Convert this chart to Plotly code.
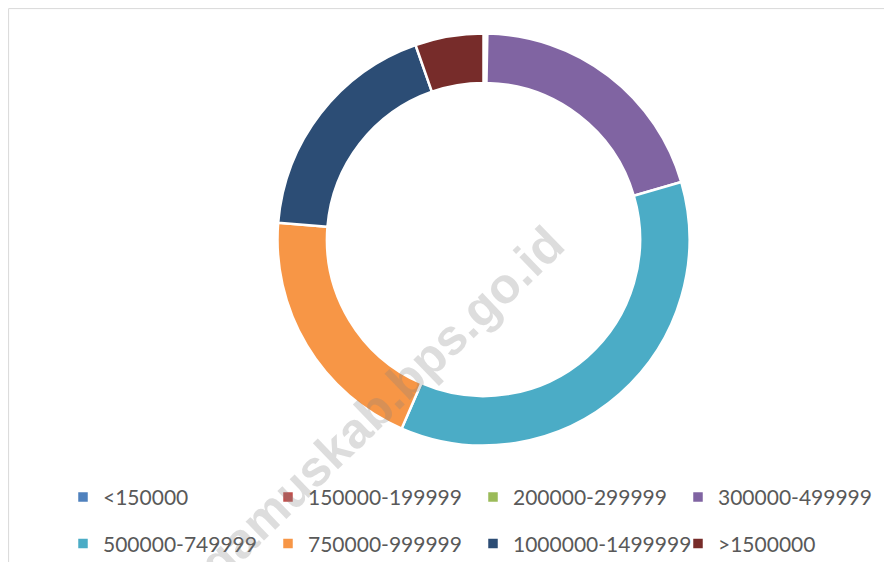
import plotly.graph_objects as go

labels = ["<150000", "150000-199999", "200000-299999", "300000-499999",
          "500000-749999", "750000-999999", "1000000-1499999", ">1500000"]
values = [0.1, 0.1, 0.1, 20.2, 36.0, 19.8, 18.35, 5.35]
colors = ["#4F81BD", "#C0504D", "#9BBB59", "#8064A2",
          "#4BACC6", "#F79646", "#2C4D75", "#772C2A"]

# page offset of the plot div (default body margin)
OFF = 8
W, H = 892 - OFF, 562 - OFF
cx, cy, R = 483.5 - OFF, 239.5 - OFF, 206


def esc(s):
    return s.replace("<", "&lt;").replace(">", "&gt;")


legend_labels = ["<span style='font-size:21px;baseline-shift:5px'>" + esc(l) + "</span>" for l in labels]

fig = go.Figure(go.Pie(
    labels=legend_labels, values=values, sort=False, direction="clockwise", rotation=0,
    hole=0.76, textinfo="none", hoverinfo="label+value",
    marker=dict(colors=colors, line=dict(color="white", width=2.5)),
    domain=dict(x=[(cx - R) / W, (cx + R) / W], y=[1 - (cy + R) / H, 1 - (cy - R) / H]),
))

LEG_FONT = 33.5
row1 = 497 - OFF
leg_top = row1 - 5 - (LEG_FONT * 1.3 + 3) / 2
leg_x = 55
fig.update_layout(
    width=W, height=H, margin=dict(l=0, r=0, t=0, b=0, autoexpand=False),
    paper_bgcolor="white", plot_bgcolor="white",
    showlegend=True,
    legend=dict(orientation="h", x=leg_x / W, y=1 - leg_top / H, xanchor="left", yanchor="top",
                entrywidth=160, entrywidthmode="pixels", traceorder="normal",
                font=dict(family="Lato", size=LEG_FONT, color="#595959"),
                bgcolor="rgba(0,0,0,0)"),
    shapes=[dict(type="rect", xref="paper", yref="paper", x0=0.6 / W, x1=1.05, y0=-0.05, y1=1 - 0.6 / H,
                 line=dict(color="#D9D9D9", width=1), fillcolor="rgba(0,0,0,0)", layer="below")],
    annotations=[dict(text="gamuskab.bps.go.id", x=(381 - OFF) / W, y=1 - (404 - OFF) / H,
                      xref="paper", yref="paper", xanchor="center", yanchor="middle",
                      showarrow=False, textangle=-44,
                      font=dict(family="Liberation Sans", size=50, color="rgba(128,128,128,0.27)", weight="bold"))],
)

fig.write_html("out.html")
